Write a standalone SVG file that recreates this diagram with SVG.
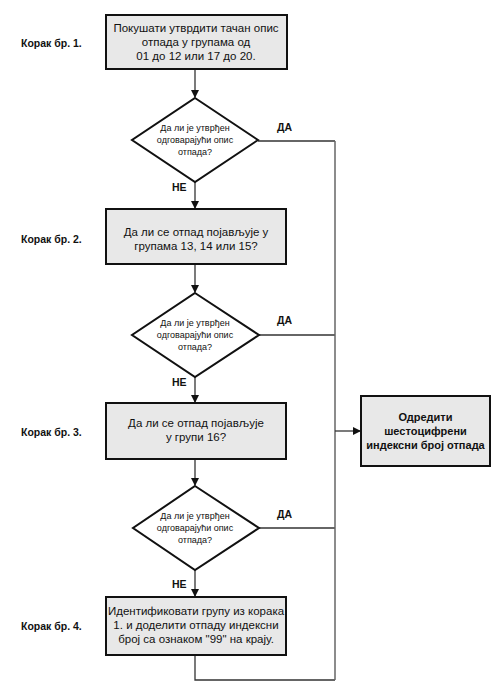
<svg xmlns="http://www.w3.org/2000/svg" width="500" height="697" viewBox="0 0 500 697">
<defs>
<marker id="ah" markerWidth="8" markerHeight="8" refX="7" refY="4" orient="auto" markerUnits="userSpaceOnUse">
<path d="M0,0 L8,4 L0,8 z" fill="#111"/>
</marker>
<style>
.box{fill:#e8e8e8;stroke:#111;stroke-width:2}
.dia{fill:#fff;stroke:#111;stroke-width:2}
.t{font-family:"Liberation Sans",Arial,sans-serif;font-size:11.5px;fill:#111;text-anchor:middle}
.d{font-family:"Liberation Sans",Arial,sans-serif;font-size:9px;fill:#111;text-anchor:middle}
.b{font-family:"Liberation Sans",Arial,sans-serif;font-size:10.5px;font-weight:bold;fill:#111}
.bc{font-family:"Liberation Sans",Arial,sans-serif;font-size:11px;font-weight:bold;fill:#111;text-anchor:middle}
.c{fill:none;stroke:#333;stroke-width:1.3}
.g{fill:none;stroke:#666;stroke-width:1.5}
</style>
</defs>
<rect width="500" height="697" fill="#fff"/>
<g id="connectors">
<line class="c" x1="195" y1="69" x2="195" y2="97" marker-end="url(#ah)"/>
<line class="c" x1="195" y1="182" x2="195" y2="208" marker-end="url(#ah)"/>
<line class="c" x1="195" y1="264" x2="195" y2="292" marker-end="url(#ah)"/>
<line class="c" x1="195" y1="377" x2="195" y2="402" marker-end="url(#ah)"/>
<line class="c" x1="195" y1="459" x2="195" y2="485" marker-end="url(#ah)"/>
<line class="c" x1="195" y1="570" x2="195" y2="596" marker-end="url(#ah)"/>
<line class="c" x1="258" y1="141" x2="335" y2="141"/>
<line class="c" x1="259" y1="335" x2="335" y2="335"/>
<line class="c" x1="259" y1="528" x2="335" y2="528"/>
<polyline class="c" points="195,655 195,680 335,680"/>
<line class="g" x1="335" y1="141" x2="335" y2="680"/>
<line class="c" x1="335" y1="431" x2="360" y2="431" marker-end="url(#ah)"/>
<text class="b" x="277" y="131">ДА</text>
<text class="b" x="277" y="324">ДА</text>
<text class="b" x="277" y="518">ДА</text>
<text class="b" x="172" y="191">НЕ</text>
<text class="b" x="172" y="386">НЕ</text>
<text class="b" x="172" y="588">НЕ</text>
</g>
<g id="step1">
<text class="b" x="21" y="47">Корак бр. 1.</text>
<rect class="box" x="106" y="15" width="181" height="54"/>
<text class="t" x="196" y="32">Покушати утврдити тачан опис</text>
<text class="t" x="196" y="46">отпада у групама од</text>
<text class="t" x="196" y="60">01 до 12 или 17 до 20.</text>
</g>
<g id="dec1">
<polygon class="dia" points="195,98 258,140 195,182 132,140"/>
<text class="d" x="195" y="131">Да ли је утврђен</text>
<text class="d" x="195" y="143">одговарајући опис</text>
<text class="d" x="195" y="155">отпада?</text>
</g>
<g id="step2">
<text class="b" x="21" y="243">Корак бр. 2.</text>
<rect class="box" x="106" y="209" width="180" height="55"/>
<text class="t" x="196" y="236">Да ли се отпад појављује у</text>
<text class="t" x="196" y="250">групама 13, 14 или 15?</text>
</g>
<g id="dec2">
<polygon class="dia" points="195,293 259,335 195,377 132,335"/>
<text class="d" x="195" y="326">Да ли је утврђен</text>
<text class="d" x="195" y="338">одговарајући опис</text>
<text class="d" x="195" y="350">отпада?</text>
</g>
<g id="step3">
<text class="b" x="21" y="436">Корак бр. 3.</text>
<rect class="box" x="106" y="403" width="180" height="56"/>
<text class="t" x="196" y="427">Да ли се отпад појављује</text>
<text class="t" x="196" y="441">у групи 16?</text>
</g>
<g id="dec3">
<polygon class="dia" points="195,486 259,528 195,570 133,528"/>
<text class="d" x="195" y="519">Да ли је утврђен</text>
<text class="d" x="195" y="531">одговарајући опис</text>
<text class="d" x="195" y="543">отпада?</text>
</g>
<g id="step4">
<text class="b" x="21" y="630">Корак бр. 4.</text>
<rect class="box" x="106" y="597" width="180" height="58"/>
<text class="t" x="196" y="615">Идентификовати групу из корака</text>
<text class="t" x="196" y="629">1. и доделити отпаду индексни</text>
<text class="t" x="196" y="643">број са ознаком "99" на крају.</text>
</g>
<g id="result">
<rect class="box" x="361" y="396" width="129" height="70"/>
<text class="bc" x="425.5" y="421">Одредити</text>
<text class="bc" x="425.5" y="435">шестоцифрени</text>
<text class="bc" x="425.5" y="449">индексни број отпада</text>
</g>
</svg>
